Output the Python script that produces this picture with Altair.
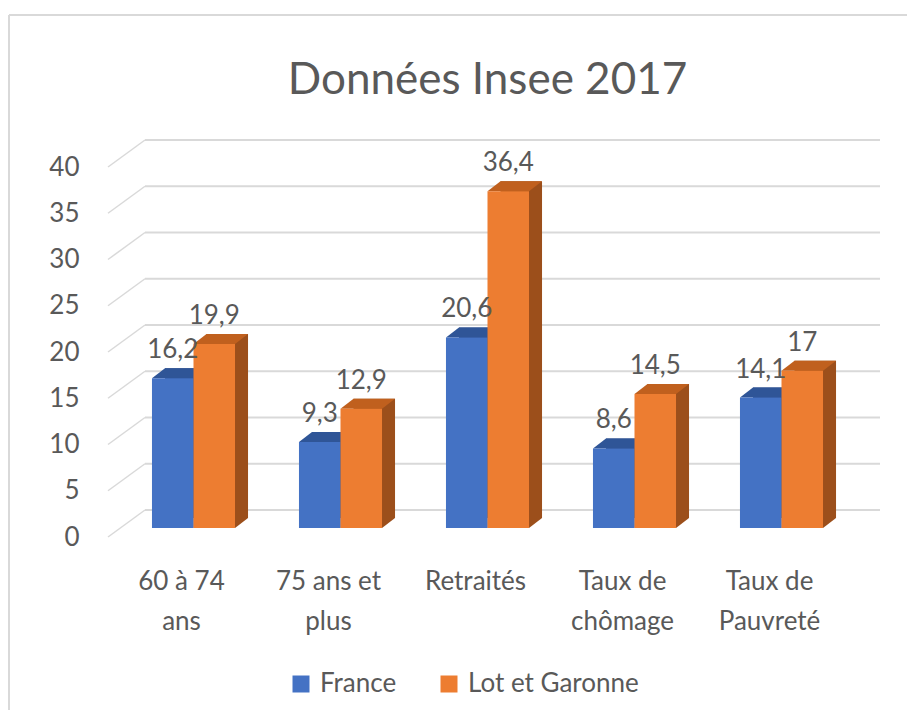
import json
import altair as alt
import pandas as pd

# ---------------- data ----------------
categories = ["60 à 74 ans", "75 ans et plus", "Retraités", "Taux de chômage", "Taux de Pauvreté"]
label_lines = [["60 à 74", "ans"], ["75 ans et", "plus"], ["Retraités"], ["Taux de", "chômage"], ["Taux de", "Pauvreté"]]
series = ["France", "Lot et Garonne"]
france = [16.2, 9.3, 20.6, 8.6, 14.1]
lot_et_garonne = [19.9, 12.9, 36.4, 14.5, 17]
y_ticks = [0, 5, 10, 15, 20, 25, 30, 35, 40]

# ---------------- style ----------------
FONT = "Lato"
TEXT = "#595959"
GRID = "#d9d9d9"
FRONT = ["#4472C4", "#ED7D31"]
TOP = ["#2F5597", "#C0601E"]
SIDE = ["#2A4B87", "#9C4F1B"]
W, H = 735, 370
PAD = {"left": 112, "top": 150, "right": 52, "bottom": 182}
P_INNER = 0.435
STEP = W / len(categories)
BAR = STEP * (1 - P_INNER) / 2
DX, DY = 13, -10
FRONT_DX, FRONT_DY = -12, 9
BACK_DX, BACK_DY = 25, -18
FRAME_X, FRAME_Y = -111, -143   # chart frame (left / top edges), relative to plot

rows = []
for s, vals in zip(series, [france, lot_et_garonne]):
    for c, v in zip(categories, vals):
        rows.append({"categorie": c, "serie": s, "valeur": v,
                     "etiquette": f"{v:g}".replace(".", ",")})
df = pd.DataFrame(rows)
ticks = pd.DataFrame({"t": y_ticks})
frame = pd.DataFrame({"cote": ["gauche"]})

label_expr = " : ".join(
    f"datum.value == {json.dumps(c, ensure_ascii=False)} ? {json.dumps(l, ensure_ascii=False)}"
    for c, l in zip(categories, label_lines)
) + " : datum.label"

xscale = alt.Scale(domain=categories, paddingInner=P_INNER, paddingOuter=P_INNER / 2)
yscale = alt.Scale(domain=[0, 40], nice=False)
x_axis = alt.Axis(labelAngle=0, labelOffset=FRONT_DX, labelPadding=40, labelBaseline="top",
                  labelLineHeight=40, labelExpr=label_expr)
y_axis = alt.Axis(values=y_ticks, labelOffset=FRONT_DY, labelPadding=41)
X = alt.X("categorie:N", scale=xscale, title=None, axis=x_axis)
Y = alt.Y("valeur:Q", scale=yscale, title=None, axis=y_axis)
YT = alt.Y("t:Q", scale=yscale, title=None, axis=y_axis)

# custom symbol unit = sqrt(size)/2 = U px
U = 40.0
half = BAR / 2
top_path = "M{:.4f},0 L{:.4f},0 L{:.4f},{:.4f} L{:.4f},{:.4f} Z".format(
    -half / U, half / U, (half + DX) / U, DY / U, (-half + DX) / U, DY / U)
bottom_path = "M{:.4f},0 L{:.4f},{:.4f} L{:.4f},{:.4f} Z".format(
    half / U, half / U, DY / U, (half + DX) / U, DY / U)

border_left = alt.Chart(frame).mark_rule(color=GRID, strokeWidth=2).encode(
    detail="cote:N", x=alt.value(FRAME_X), y=alt.value(FRAME_Y), y2=alt.value(H + PAD["bottom"]))
border_top = alt.Chart(frame).mark_rule(color=GRID, strokeWidth=2).encode(
    detail="cote:N", x=alt.value(FRAME_X), x2=alt.value(W + PAD["right"]), y=alt.value(FRAME_Y))

back_grid = alt.Chart(ticks).mark_rule(color=GRID, strokeWidth=2, yOffset=BACK_DY).encode(
    y=YT, x=alt.value(BACK_DX), x2=alt.value(W + BACK_DX))
diag_grid = alt.Chart(ticks).mark_rule(color=GRID, strokeWidth=1.5, yOffset=FRONT_DY, y2Offset=BACK_DY).encode(
    y=YT, y2="t:Q", x=alt.value(FRONT_DX), x2=alt.value(BACK_DX))

sides, tops, fronts, texts = [], [], [], []
for i, s in enumerate(series):
    shift = (i - 0.5) * BAR
    base = alt.Chart(df).transform_filter(alt.datum.serie == s)
    sides.append(base.mark_bar(width=alt.RelativeBandSize(0.5), xOffset=shift + DX,
                               yOffset=DY, y2Offset=DY, color=SIDE[i]).encode(
        x=X, y=Y, y2=alt.datum(0)))
    sides.append(base.transform_calculate(zero="0").mark_point(
        shape=bottom_path, size=4 * U * U, filled=True, opacity=1, strokeWidth=0,
        color=SIDE[i], xOffset=shift).encode(
        x=X, y=alt.Y("zero:Q", scale=yscale, title=None, axis=y_axis)))
    tops.append(base.mark_point(shape=top_path, size=4 * U * U, filled=True, opacity=1,
                                strokeWidth=0, color=TOP[i], xOffset=shift).encode(x=X, y=Y))
    fronts.append(base.mark_bar(width=alt.RelativeBandSize(0.5), xOffset=shift).encode(
        x=X, y=Y, y2=alt.datum(0),
        color=alt.Color("serie:N", scale=alt.Scale(domain=series, range=FRONT),
                        legend=alt.Legend(title=None, orient="none", legendX=168, legendY=513,
                                          direction="horizontal", symbolType="square", symbolSize=289,
                                          symbolStrokeWidth=0, labelFont=FONT, labelFontSize=26,
                                          labelColor=TEXT, columnPadding=39, labelOffset=6, padding=0,
                                          labelLimit=500)),
    ))
    texts.append(base.mark_text(xOffset=shift, dy=-20, baseline="alphabetic", font=FONT, fontSize=26,
                                color=TEXT).encode(x=X, y=Y, text="etiquette:N"))

chart = alt.layer(border_left, border_top, back_grid, diag_grid, *sides, *tops, *fronts, *texts).properties(
    width=W, height=H,
    autosize=alt.AutoSizeParams(type="none"),
    padding=PAD,
    title=alt.Title("Données Insee 2017", font=FONT, fontSize=44, fontWeight="normal", color=TEXT,
                    anchor="middle", frame="group", baseline="alphabetic", offset=-124),
).configure_view(stroke=None).configure_axis(
    grid=False, domain=False, ticks=False, labelFont=FONT, labelFontSize=26, labelColor=TEXT
)

chart.save("out.html", embed_options={"renderer": "svg", "actions": False})
